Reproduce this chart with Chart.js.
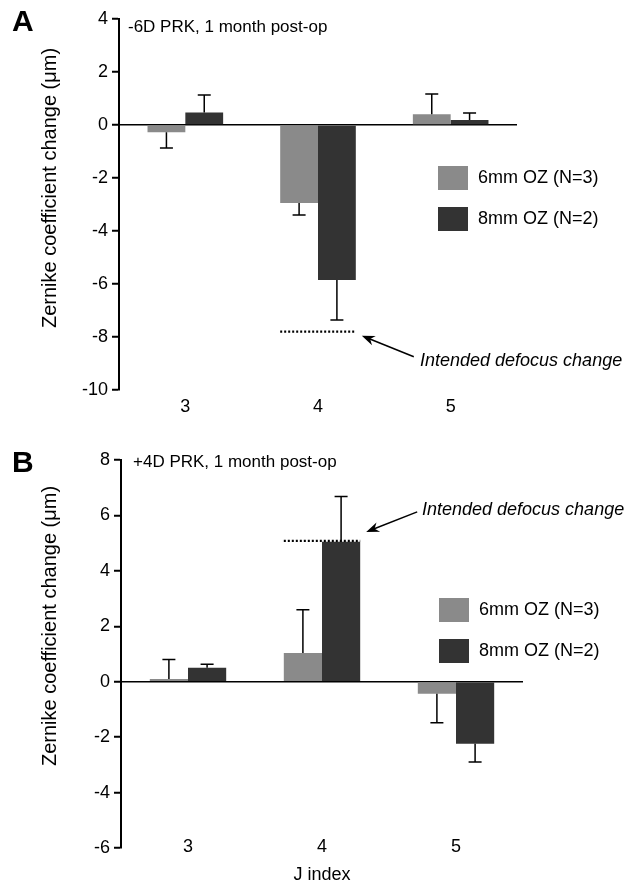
<!DOCTYPE html>
<html>
<head>
<meta charset="utf-8">
<script src="https://cdn.jsdelivr.net/npm/chart.js@4.4.1/dist/chart.umd.min.js"></script>
<style>
body{margin:0;background:#fff;}
canvas{position:absolute;left:0;}
#chartA{top:0;}
#chartB{top:444px;}
</style>
</head>
<body>
<canvas id="chartA" width="633" height="444"></canvas>
<canvas id="chartB" width="633" height="444"></canvas>
<script>
// J index categories and the two optical zone groups
const jIndex = ['3', '4', '5'];
const groupLabels = ['6mm OZ (N=3)', '8mm OZ (N=2)'];
const groupColors = ['#8a8a8a', '#333333'];

// panel A : -6D PRK
const a6mm = [-0.27, -2.94, 0.41];
const a6mmErr = [0.60, 0.46, 0.76];
const a8mm = [0.47, -5.85, 0.19];
const a8mmErr = [0.66, 1.51, 0.26];
const aIntended = -7.8;
const aYRange = [-10, 4];

// panel B : +4D PRK
const b6mm = [0.10, 1.04, -0.43];
const b6mmErr = [0.70, 1.56, 1.05];
const b8mm = [0.50, 5.05, -2.24];
const b8mmErr = [0.13, 1.63, 0.66];
const bIntended = 5.08;
const bYRange = [-6, 8];

const FONT = '"Liberation Sans", Arial, Helvetica, sans-serif';

// error bars, intended defocus line, arrow, legend and texts
const decorPlugin = {
    id: 'decor',
    afterDatasetsDraw(chart, args, opts) {
        const ctx = chart.ctx;
        const y = chart.scales.y;
        const x = chart.scales.x;
        ctx.save();
        ctx.strokeStyle = '#000';
        ctx.fillStyle = '#000';

        // one sided error bars
        chart.data.datasets.forEach(function(ds, i){
            const meta = chart.getDatasetMeta(i);
            meta.data.forEach(function(bar, j){
                const v = ds.data[j];
                const end = v < 0 ? v - ds.err[j] : v + ds.err[j];
                const yEnd = y.getPixelForValue(end);
                ctx.lineWidth = 1.5;
                ctx.beginPath();
                ctx.moveTo(bar.x, bar.y);
                ctx.lineTo(bar.x, yEnd);
                ctx.moveTo(bar.x - 6.5, yEnd);
                ctx.lineTo(bar.x + 6.5, yEnd);
                ctx.stroke();
            });
        });

        // intended defocus change (dotted) over J=4
        const g0 = chart.getDatasetMeta(0).data[1];
        const g1 = chart.getDatasetMeta(1).data[1];
        const x0 = g0.x - g0.width / 2;
        const x1 = g1.x + g1.width / 2;
        const yi = y.getPixelForValue(opts.intended);
        ctx.lineWidth = 2.2;
        ctx.setLineDash([2, 2]);
        ctx.beginPath();
        ctx.moveTo(x0, yi);
        ctx.lineTo(x1, yi);
        ctx.stroke();
        ctx.setLineDash([]);

        // arrow
        const tipX = x1 + opts.arrow[0], tipY = yi + opts.arrow[1];
        const tailX = tipX + opts.arrow[2], tailY = tipY + opts.arrow[3];
        const ang = Math.atan2(tipY - tailY, tipX - tailX);
        ctx.lineWidth = 1.5;
        ctx.beginPath();
        ctx.moveTo(tailX, tailY);
        ctx.lineTo(tipX - 8 * Math.cos(ang), tipY - 8 * Math.sin(ang));
        ctx.stroke();
        ctx.beginPath();
        ctx.moveTo(tipX, tipY);
        ctx.lineTo(tipX - 13 * Math.cos(ang) + 5 * Math.sin(ang), tipY - 13 * Math.sin(ang) - 5 * Math.cos(ang));
        ctx.lineTo(tipX - 9 * Math.cos(ang), tipY - 9 * Math.sin(ang));
        ctx.lineTo(tipX - 13 * Math.cos(ang) - 5 * Math.sin(ang), tipY - 13 * Math.sin(ang) + 5 * Math.cos(ang));
        ctx.closePath();
        ctx.fill();

        ctx.font = 'italic 18px ' + FONT;
        ctx.textAlign = 'left';
        ctx.textBaseline = 'alphabetic';
        ctx.fillText('Intended defocus change', opts.noteX, opts.noteY);

        // legend
        ctx.font = '18px ' + FONT;
        ctx.textBaseline = 'middle';
        chart.data.datasets.forEach(function(ds, i){
            const ly = opts.legendY + i * 41;
            ctx.fillStyle = ds.backgroundColor;
            ctx.fillRect(opts.legendX, ly, 30, 24);
            ctx.fillStyle = '#000';
            ctx.fillText(ds.label, opts.legendX + 40, ly + 12);
        });

        // category labels placed level with the lowest y tick (panel B)
        if (opts.catLabelY) {
            ctx.textAlign = 'center';
            chart.data.labels.forEach(function(lab, i){
                ctx.fillText(lab, x.getPixelForTick(i), opts.catLabelY);
            });
            ctx.textAlign = 'left';
        }

        // panel letter and title
        ctx.textBaseline = 'alphabetic';
        ctx.font = 'bold 30px ' + FONT;
        ctx.fillText(opts.letter, 12, opts.letterY);
        ctx.font = '17px ' + FONT;
        ctx.fillText(opts.title, opts.titleX, opts.titleY);

        // y axis title
        ctx.save();
        ctx.translate(50, opts.yTitleY);
        ctx.rotate(-Math.PI / 2);
        ctx.textAlign = 'center';
        ctx.textBaseline = 'middle';
        ctx.font = '20px ' + FONT;
        ctx.fillText('Zernike coefficient change (\u03BCm)', 0, 0);
        ctx.restore();

        ctx.restore();
    }
};

function makeChart(canvasId, d6, e6, d8, e8, yRange, cfg) {
    const tickFont = {family: FONT, size: 18};
    return new Chart(document.getElementById(canvasId), {
        type: 'bar',
        data: {
            labels: jIndex,
            datasets: [{
                label: groupLabels[0],
                data: d6,
                err: e6,
                backgroundColor: groupColors[0],
                borderWidth: 0
            }, {
                label: groupLabels[1],
                data: d8,
                err: e8,
                backgroundColor: groupColors[1],
                borderWidth: 0
            }]
        },
        options: {
            responsive: false,
            animation: false,
            layout: {padding: {left: 0, right: cfg.padRight, top: cfg.padTop, bottom: 0}},
            datasets: {bar: {categoryPercentage: 0.57, barPercentage: 1.0}},
            plugins: {
                legend: {display: false},
                tooltip: {enabled: false},
                decor: cfg.decor
            },
            scales: {
                x: {
                    grid: {display: false, drawTicks: false},
                    border: {display: false},
                    ticks: {display: cfg.xTicks, font: tickFont, color: '#000', padding: 6},
                    title: cfg.xTitle,
                    afterFit: function(s){ s.height = cfg.xHeight; }
                },
                y: {
                    min: yRange[0],
                    max: yRange[1],
                    border: {display: true, color: '#000', width: 2},
                    grid: {
                        color: function(c){ return c.tick && c.tick.value === 0 ? '#000' : 'rgba(0,0,0,0)'; },
                        lineWidth: 1.5,
                        tickColor: '#000',
                        tickWidth: 2,
                        tickLength: 7
                    },
                    ticks: {stepSize: 2, autoSkip: false, font: tickFont, color: '#000', padding: 4},
                    afterFit: function(s){ s.width = cfg.yWidth; }
                }
            }
        },
        plugins: [decorPlugin]
    });
}

makeChart('chartA', a6mm, a6mmErr, a8mm, a8mmErr, aYRange, {
    padRight: 116, padTop: 19, xHeight: 54, yWidth: 119, xTicks: true,
    xTitle: {display: false},
    decor: {
        intended: aIntended, arrow: [6, 4, 52, 21], noteX: 420, noteY: 366,
        legendX: 438, legendY: 166, letter: 'A', letterY: 31,
        title: '-6D PRK, 1 month post-op', titleX: 128, titleY: 32, yTitleY: 188
    }
});

makeChart('chartB', b6mm, b6mmErr, b8mm, b8mmErr, bYRange, {
    padRight: 110, padTop: 16, xHeight: 40, yWidth: 121, xTicks: false,
    xTitle: {display: true, text: 'J index', color: '#000', font: {family: FONT, size: 18}, padding: {top: 0, bottom: 2}},
    decor: {
        intended: bIntended, arrow: [6, -9, 51, -20], noteX: 422, noteY: 71,
        legendX: 439, legendY: 154, letter: 'B', letterY: 28, catLabelY: 403,
        title: '+4D PRK, 1 month post-op', titleX: 133, titleY: 23, yTitleY: 182
    }
});
</script>
</body>
</html>
